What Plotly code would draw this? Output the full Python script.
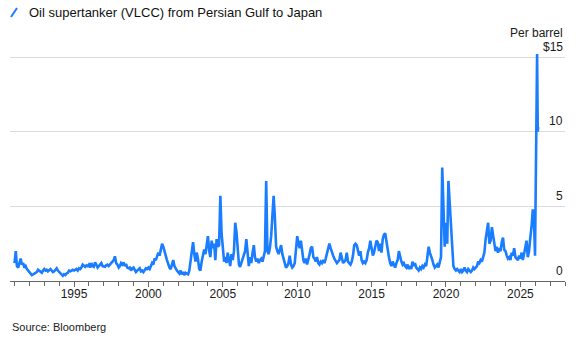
import pandas as pd
import plotly.graph_objects as go

# Monthly freight cost estimates ($ per barrel)
values_1990s = [
    1.2, 2.0, 1.0, 0.9, 1.2, 1.5, 1.1, 1.2, 0.9, 1.0, 0.8, 0.7,      # 1991
    0.6, 0.5, 0.4, 0.45, 0.5, 0.55, 0.6, 0.75, 0.7, 0.6, 0.55, 0.7,  # 1992
    0.8, 0.7, 0.75, 0.65, 0.7, 0.8, 0.7, 0.6, 0.65, 0.75, 0.85, 0.7, # 1993
    0.6, 0.5, 0.4, 0.35, 0.45, 0.4, 0.5, 0.55, 0.7, 0.65, 0.7, 0.75, # 1994
    0.7, 0.75, 0.8, 0.7, 0.85, 0.8, 0.9, 1.1, 1.0, 0.95, 1.05, 1.0,  # 1995
    1.1, 0.9, 1.2, 1.0, 0.95, 1.25, 1.1, 0.9, 1.0, 1.1, 1.2, 1.0,    # 1996
    1.0, 0.95, 1.05, 1.1, 1.0, 1.15, 1.2, 1.3, 1.4, 1.65, 1.2, 1.1,  # 1997
    0.9, 1.0, 1.2, 1.1, 1.25, 1.0, 1.15, 0.9, 0.85, 0.9, 0.7, 0.85,  # 1998
    0.9, 0.75, 0.6, 0.7, 0.8, 0.85, 0.65, 0.7, 0.6, 0.75, 0.85, 0.8, # 1999
]
values_2000s = [
    0.9, 0.8, 1.0, 1.2, 1.1, 1.5, 1.4, 1.6, 1.9, 1.7, 2.2, 2.5,      # 2000
    2.3, 1.9, 1.7, 1.4, 1.1, 0.9, 0.8, 1.1, 1.4, 1.0, 0.8, 0.7,      # 2001
    0.6, 0.5, 0.7, 0.45, 0.6, 0.4, 0.55, 0.5, 0.45, 0.7, 1.4, 2.1,   # 2002
    2.6, 1.8, 1.3, 1.9, 1.5, 0.8, 0.7, 1.3, 1.7, 2.1, 1.8, 2.6,      # 2003
    3.0, 2.0, 1.6, 2.7, 2.2, 2.5, 1.4, 2.8, 2.3, 2.4, 5.7, 3.2,      # 2004
    2.0, 1.3, 1.6, 1.2, 1.9, 1.5, 1.0, 1.8, 1.4, 2.0, 3.9, 3.3,      # 2005
    1.9, 1.1, 0.95, 1.2, 1.5, 1.6, 2.0, 2.8, 1.5, 1.0, 1.6, 1.2,     # 2006
    1.9, 2.4, 1.6, 1.3, 1.5, 1.2, 1.4, 1.5, 1.3, 1.6, 2.0, 6.7,      # 2007
    2.0, 1.8, 2.2, 3.0, 4.9, 5.7, 4.3, 2.3, 2.0, 1.8, 2.1, 2.4,      # 2008
    1.8, 1.5, 1.2, 0.9, 1.0, 1.2, 1.7, 1.1, 0.9, 1.0, 1.2, 2.0,      # 2009
]
values_2010s = [
    3.0, 2.5, 2.2, 2.7, 2.0, 1.4, 1.2, 1.5, 1.1, 1.4, 1.8, 2.2,      # 2010
    2.3, 1.6, 1.5, 1.3, 1.6, 1.2, 1.1, 1.3, 1.2, 1.4, 1.2, 1.5,      # 2011
    1.8, 2.2, 2.5, 2.2, 1.9, 1.7, 1.5, 1.3, 1.2, 1.3, 1.4, 1.9,      # 2012
    1.5, 1.2, 1.3, 1.4, 1.9, 1.3, 1.2, 1.1, 1.3, 1.7, 2.4, 2.5,      # 2013
    2.4, 2.1, 1.7, 2.0, 1.4, 1.2, 1.3, 1.2, 1.4, 1.9, 2.2, 2.7,      # 2014
    2.2, 1.7, 1.9, 2.4, 2.7, 2.6, 2.0, 2.5, 1.9, 2.8, 3.1, 3.2,      # 2015
    2.6, 2.3, 1.6, 1.2, 1.0, 1.3, 1.1, 0.9, 1.2, 1.4, 2.0, 1.6,      # 2016
    1.3, 1.1, 1.2, 1.0, 0.9, 1.1, 0.8, 1.0, 0.8, 1.3, 1.0, 1.2,      # 2017
    0.9, 0.8, 0.7, 0.9, 0.8, 1.0, 0.9, 1.1, 1.0, 1.6, 2.3, 1.9,      # 2018
    1.7, 1.4, 1.1, 0.9, 1.0, 1.1, 0.9, 1.2, 1.6, 7.6, 4.0, 2.3,      # 2019
]
values_2020s = [
    3.9, 2.5, 6.7, 5.2, 3.2, 2.0, 1.0, 0.8, 0.7, 0.8, 0.7, 0.6,      # 2020
    0.8, 0.6, 0.7, 0.9, 0.7, 0.6, 0.8, 0.7, 0.6, 0.7, 0.9, 0.8,      # 2021
    0.9, 1.0, 1.3, 1.2, 1.4, 1.3, 1.6, 1.9, 2.8, 3.3, 3.9, 2.5,      # 2022
    2.7, 3.6, 3.0, 2.4, 2.0, 2.3, 1.9, 2.2, 2.0, 2.6, 2.9, 2.1,      # 2023
    2.0, 1.7, 1.5, 1.6, 1.4, 1.9, 1.7, 2.2, 1.6, 1.5, 1.4, 1.7,      # 2024
    1.5, 1.9, 1.4, 1.8, 2.2, 2.7, 1.6, 2.0, 2.9, 3.6, 4.8, 4.2,      # 2025
]
# Latest weekly readings
recent_dates = ["2025-12-12", "2025-12-26", "2026-02-15", "2026-02-24",
                "2026-03-03", "2026-03-08", "2026-03-13"]
recent_values = [3.0, 1.7, 15.2, 12.8, 10.0, 12.2, 10.3]

monthly_values = values_1990s + values_2000s + values_2010s + values_2020s
monthly_dates = pd.date_range("1991-01-01", periods=len(monthly_values), freq="MS")

dates = list(monthly_dates.strftime("%Y-%m-%d")) + recent_dates
values = monthly_values + recent_values

tick_vals = [0, 5, 10, 15]
tick_text = ["0", "5", "10", "$15"]

TITLE = "Oil supertanker (VLCC) from Persian Gulf to Japan"
BLUE = "#1a7dff"
FONT = "Liberation Sans, Arial, sans-serif"
TEXT = "#1a1a1a"

fig = go.Figure()
fig.add_trace(go.Scatter(
    x=dates, y=values, mode="lines",
    line=dict(color=BLUE, width=2.6), showlegend=False,
))

annotations = [
    dict(text=TITLE, xref="paper", yref="paper", x=0.030, y=1.163,
         xanchor="left", yanchor="middle", showarrow=False,
         font=dict(size=13, color="#111")),
    dict(text="Per barrel", xref="paper", yref="paper", x=1.0, y=1.072,
         xanchor="right", yanchor="middle", showarrow=False,
         font=dict(size=12, color=TEXT)),
    dict(text="Source: Bloomberg", xref="paper", yref="paper", x=0.0, y=-0.2,
         xanchor="left", yanchor="middle", showarrow=False,
         font=dict(size=11, color=TEXT)),
]
for v, t in zip(tick_vals, tick_text):
    annotations.append(dict(
        text=t, xref="paper", yref="y", x=1.0, y=v,
        xanchor="right", yanchor="middle", yshift=10.5, showarrow=False,
        font=dict(size=12, color=TEXT),
    ))

fig.update_layout(
    width=586, height=344,
    margin=dict(l=10, r=21, t=50, b=63),
    plot_bgcolor="white", paper_bgcolor="white",
    font=dict(family=FONT, size=12, color=TEXT),
    xaxis=dict(
        type="date",
        range=["1990-09-12", "2028-01-01"],
        tick0="1995-01-01", dtick="M60", tickformat="%Y",
        ticks="outside", ticklen=5, tickwidth=1, tickcolor="#666",
        ticklabelstandoff=-3,
        showline=True, linecolor="#666", linewidth=1,
        showgrid=False, zeroline=False,
        minor=dict(dtick="M12", tick0="1991-01-01", ticks="outside",
                   ticklen=4, tickcolor="#666", showgrid=False),
        tickfont=dict(size=12, color=TEXT),
        fixedrange=True,
    ),
    yaxis=dict(
        side="right",
        range=[0, 15.47],
        tickvals=tick_vals, showticklabels=False,
        showgrid=True, gridcolor="#dcdcdc", gridwidth=1,
        zeroline=False, showline=False, ticks="",
        fixedrange=True,
    ),
    annotations=annotations,
    shapes=[
        dict(type="line", xref="paper", yref="paper",
             x0=0.0018, y0=1.143, x1=0.0126, y1=1.182,
             line=dict(color=BLUE, width=2)),
    ],
)

fig.write_html("out.html")
